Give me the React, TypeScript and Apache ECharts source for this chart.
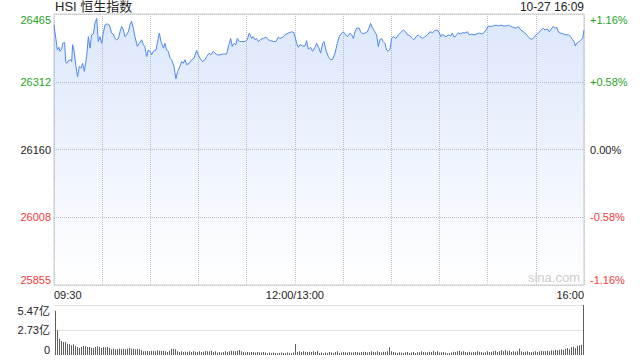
import React, { useEffect, useRef } from 'react';
import * as echarts from 'echarts';

const GREEN = '#1ea31e';
const RED = '#f23a3a';
const DARK = '#222222';
const FONT = '"Liberation Sans", Arial, "Noto Sans CJK SC", sans-serif';

const TITLE = 'HSI 恒生指数';
const STAMP = '10-27 16:09';
const WATERMARK = 'sina.com';

const Y_MIN = 25855;
const Y_MAX = 26465;
const Y_TICKS = [25855, 26007.5, 26160, 26312.5, 26465];
const Y_LABELS = ['25855', '26008', '26160', '26312', '26465'];
const PCT_LABELS = ['-1.16%', '-0.58%', '0.00%', '+0.58%', '+1.16%'];
const LABEL_COLORS = [RED, RED, DARK, GREEN, GREEN];

const X_TICKS = [0, 150, 330];
const X_LABELS = ['09:30', '12:00/13:00', '16:00'];

// minutes since 09:30 on the trading clock (lunch break removed)
const MINUTES = [
  0, 2.1, 3.1, 3.7, 4.8, 5.4, 6.6, 7.3, 7.9, 8.9, 10.4, 11, 11.6, 12.4, 13.7, 14.7, 15.8, 16.8, 17.8, 18.9,
  20.3, 21.4, 22.4, 23.4, 24.5, 25.5, 26.6, 27.6, 28.6, 29.7, 30.7, 31.7, 33.2, 34.4, 35.9, 36.9, 38, 39, 40.1, 41.1,
  42.1, 43.2, 44.2, 45.2, 46.3, 47.3, 48.3, 49.4, 50.4, 51.9, 53.1, 54.6, 55.6, 56.6, 57.7, 58.7, 59.8, 60.8, 61.8, 63.5,
  64.3, 65.6, 66.6, 68.1, 69.1, 70.1, 71.2, 72.2, 73.2, 74.7, 75.9, 77, 78, 79.5, 80.5, 81.5, 82.6, 84.2, 85.7, 87.2,
  88.8, 89.8, 91.3, 92.5, 94, 95, 96.7, 97.7, 99.2, 100.2, 101.7, 103.3, 105.4, 107.5, 108.9, 110, 111, 112.1, 113.3, 114.1,
  115.4, 116.8, 118.9, 120.3, 121.6, 123.1, 124.1, 125.1, 126.2, 127.2, 128.7, 130.3, 132, 133.4, 134.9, 136.6, 138.2, 139.7, 140.7, 142.4,
  143.8, 145.9, 148, 149.4, 151.1, 152.1, 153.2, 154.8, 156.3, 157.3, 158.3, 159.8, 161, 162.5, 163.5, 165, 166, 167.3, 168.1, 169.3,
  170.8, 172.2, 173.5, 175, 176.4, 177.6, 179.1, 180.1, 181.2, 182.6, 184.3, 185.3, 186.4, 187.4, 188.4, 190.1, 190.9, 192.2, 193.6, 195.1,
  196.1, 197.1, 198.4, 199.8, 200.9, 201.9, 203, 204, 205, 206.1, 207.1, 208.1, 209.2, 210.2, 211.3, 212.9, 214.4, 215.8, 217.5, 218.9,
  220.2, 221.6, 223.3, 224.1, 225.4, 226.8, 227.9, 229.6, 231, 232.5, 234.1, 235.8, 237.2, 238.7, 239.9, 240.8, 242, 242.8, 244.1, 245.5,
  247, 248, 249.1, 250.3, 251.8, 252.8, 254.5, 255.9, 257.4, 258.6, 260.1, 261.5, 263.2, 264.8, 266.3, 267.7, 269, 270.4, 271.9, 273.5,
  275.2, 276.7, 278.1, 279.8, 281.4, 282.9, 284.3, 286, 287.7, 289.1, 290.6, 292.2, 293.9, 295.3, 296.8, 298.4, 300.1, 301.6, 303, 304.7,
  305.7, 307.2, 308.4, 309.9, 310.9, 311.9, 313, 314, 315.5, 317.1, 318.8, 320.2, 321.7, 322.9, 323.8, 324.6, 325.4, 326.5, 327.5, 328.5,
  329.2, 330,
];

const PRICES = [
  26440, 26384, 26390, 26381, 26386, 26399, 26401, 26358, 26354, 26360, 26362, 26358, 26396, 26384, 26347, 26324, 26347, 26343, 26354, 26336,
  26369, 26414, 26388, 26418, 26420, 26444, 26455, 26403, 26414, 26399, 26422, 26440, 26443, 26440, 26422, 26420, 26410, 26407, 26410, 26425,
  26437, 26429, 26414, 26418, 26425, 26440, 26449, 26433, 26414, 26392, 26399, 26407, 26396, 26392, 26369, 26384, 26381, 26373, 26381, 26384,
  26399, 26422, 26403, 26388, 26399, 26384, 26381, 26366, 26362, 26347, 26319, 26336, 26343, 26358, 26354, 26362, 26351, 26354, 26362, 26366,
  26383, 26373, 26363, 26358, 26362, 26369, 26377, 26373, 26381, 26377, 26373, 26373, 26375, 26375, 26396, 26410, 26392, 26399, 26396, 26410,
  26403, 26403, 26403, 26407, 26422, 26410, 26414, 26407, 26410, 26403, 26408, 26410, 26413, 26407, 26405, 26403, 26403, 26413, 26410, 26413,
  26418, 26422, 26425, 26423, 26399, 26390, 26396, 26393, 26393, 26405, 26386, 26390, 26381, 26390, 26399, 26388, 26377, 26399, 26403, 26384,
  26369, 26362, 26363, 26377, 26399, 26414, 26422, 26425, 26420, 26414, 26422, 26418, 26410, 26425, 26433, 26433, 26425, 26420, 26422, 26425,
  26433, 26444, 26433, 26425, 26418, 26392, 26408, 26410, 26403, 26399, 26384, 26381, 26386, 26410, 26414, 26410, 26418, 26423, 26429, 26425,
  26418, 26416, 26410, 26407, 26414, 26418, 26414, 26410, 26414, 26418, 26425, 26423, 26428, 26429, 26423, 26414, 26420, 26416, 26414, 26418,
  26416, 26422, 26413, 26416, 26423, 26420, 26423, 26422, 26425, 26418, 26420, 26418, 26420, 26422, 26420, 26423, 26429, 26438, 26437, 26438,
  26440, 26438, 26440, 26438, 26438, 26440, 26437, 26435, 26433, 26437, 26429, 26425, 26420, 26414, 26408, 26410, 26418, 26422, 26428, 26433,
  26429, 26431, 26425, 26433, 26437, 26433, 26435, 26425, 26422, 26420, 26418, 26418, 26414, 26407, 26403, 26393, 26399, 26401, 26405, 26408,
  26410, 26429,
];

const VOL_MAX = 5.47;
const VOL_TICKS = [0, 2.735, 5.47];
const VOL_LABELS = ['0', '2.73亿', '5.47亿'];

// turnover per bar, in 亿
const VOLUME = [
  4.85, 2.70, 1.79, 1.53, 1.42, 1.42, 1.24, 1.17, 1.06, 1.17,
  0.98, 0.88, 0.77, 0.88, 0.98, 0.95, 0.88, 0.88, 0.80, 0.77,
  0.88, 0.95, 0.88, 0.77, 0.88, 0.84, 0.88, 0.77, 0.62, 0.69,
  0.62, 0.62, 0.69, 0.62, 0.69, 0.62, 0.69, 0.77, 0.69, 0.69,
  0.62, 0.69, 0.62, 0.51, 0.40, 0.40, 0.44, 0.40, 0.47, 0.44,
  0.40, 0.51, 0.47, 0.44, 0.47, 0.40, 0.33, 0.47, 0.69, 0.69,
  0.62, 0.40, 0.33, 0.40, 0.33, 0.36, 0.33, 0.40, 0.33, 0.40,
  0.36, 0.33, 0.40, 0.33, 0.36, 0.44, 0.40, 0.40, 0.47, 0.33,
  0.40, 0.26, 0.33, 0.26, 0.33, 0.40, 0.33, 0.40, 0.47, 0.44,
  0.40, 0.47, 0.55, 0.40, 0.33, 0.26, 0.33, 0.29, 0.33, 0.33,
  0.26, 0.33, 0.29, 0.26, 0.33, 0.26, 0.18, 0.26, 0.22, 0.26,
  0.22, 0.18, 0.22, 0.26, 0.22, 0.18, 0.26, 0.22, 0.18, 0.26,
  1.20, 0.33, 0.40, 0.33, 0.40, 0.36, 0.33, 0.36, 0.33, 0.40,
  0.33, 0.47,
  0.22, 0.26, 0.18, 0.26, 0.22, 0.33, 0.26, 0.22, 0.33, 0.40,
  0.22, 0.26, 0.33, 0.29, 0.26, 0.33, 0.26, 0.29, 0.33, 0.29,
  0.26, 0.33, 0.36, 0.33, 0.26, 0.33, 0.40, 0.33, 0.29, 0.40,
  0.33, 0.26, 0.36, 0.33, 0.40, 0.84, 0.40, 0.33, 0.26, 0.22,
  0.29, 0.26, 0.22, 0.29, 0.33, 0.22, 0.26, 0.33, 0.22, 0.26,
  0.29, 0.40, 0.33, 0.26, 0.29, 0.36, 0.33, 0.47, 0.33, 0.40,
  0.26, 0.29, 0.33, 0.26, 0.18, 0.22, 0.26, 0.36, 0.33, 0.40,
  0.47, 0.36, 0.40, 0.33, 0.29, 0.36, 0.26, 0.29, 0.33, 0.40,
  0.36, 0.33, 0.26, 0.29, 0.40, 0.33, 0.36, 0.40, 0.47, 0.33,
  0.40, 0.51, 0.40, 0.55, 0.40, 0.47, 0.33, 0.40, 0.36, 0.40,
  0.69, 0.40, 0.33, 0.36, 0.40, 0.33, 0.29, 0.36, 0.40, 0.33,
  0.40, 0.47, 0.40, 0.44, 0.47, 0.40, 0.51, 0.47, 0.55, 0.51,
  0.58, 0.62, 0.55, 0.69, 0.77, 0.62, 0.84, 0.91, 0.77, 0.98,
  1.06, 1.13, 5.47,
];

const tickIndex = (ticks: number[], v: number) => {
  let best = 0;
  for (let i = 1; i < ticks.length; i++) {
    if (Math.abs(ticks[i] - v) < Math.abs(ticks[best] - v)) best = i;
  }
  return Math.abs(ticks[best] - v) < 1e-3 * Math.max(1, Math.abs(v)) ? best : -1;
};

export default function App() {
  const ref = useRef<HTMLDivElement>(null);

  useEffect(() => {
    if (!ref.current) return;
    const chart = echarts.init(ref.current, undefined, { renderer: 'svg' });

    const GRID_LEFT = 54;
    const GRID_RIGHT = 56;
    const gridLine = { show: true, lineStyle: { color: '#c4c4c4', type: 'dotted', width: 1 } };

    const option: any = {
      animation: false,
      backgroundColor: '#ffffff',
      textStyle: { fontFamily: FONT },
      grid: [
        { left: GRID_LEFT, right: GRID_RIGHT, top: 14, height: 271, show: true, borderColor: '#cccccc', borderWidth: 1 },
        { left: GRID_LEFT + 0.5, right: GRID_RIGHT - 0.5, top: 305, height: 50 },
      ],
      xAxis: [
        {
          type: 'value',
          gridIndex: 0,
          min: 0,
          max: 330,
          interval: 30,
          axisLine: { show: false },
          axisTick: { show: false },
          splitLine: gridLine,
          axisLabel: {
            customValues: X_TICKS,
            formatter: (v: number) => {
              const i = tickIndex(X_TICKS, v);
              return i >= 0 ? X_LABELS[i] : '';
            },
            alignMinLabel: 'left',
            alignMaxLabel: 'right',
            color: '#222',
            fontSize: 11,
            fontFamily: FONT,
            margin: 4,
          },
        },
        {
          type: 'category',
          gridIndex: 1,
          data: VOLUME.map((_, i) => String(i)),
          boundaryGap: true,
          axisLine: { show: false },
          axisTick: { show: false },
          axisLabel: { show: false },
          splitLine: { show: false },
        },
      ],
      yAxis: [
        {
          type: 'value',
          gridIndex: 0,
          min: Y_MIN,
          max: Y_MAX,
          axisLine: { show: false },
          axisTick: { show: false, customValues: Y_TICKS },
          splitLine: gridLine,
          axisLabel: {
            customValues: Y_TICKS,
            formatter: (v: number) => {
              const i = tickIndex(Y_TICKS, v);
              return i >= 0 ? Y_LABELS[i] : '';
            },
            color: (v: number) => LABEL_COLORS[Math.max(0, tickIndex(Y_TICKS, v))],
            verticalAlignMinLabel: 'bottom',
            verticalAlignMaxLabel: 'top',
            fontSize: 11,
            fontFamily: FONT,
            margin: 3,
          },
        },
        {
          type: 'value',
          gridIndex: 0,
          position: 'right',
          min: Y_MIN,
          max: Y_MAX,
          axisLine: { show: false },
          axisTick: { show: false, customValues: Y_TICKS },
          splitLine: { show: false },
          axisLabel: {
            customValues: Y_TICKS,
            formatter: (v: number) => {
              const i = tickIndex(Y_TICKS, v);
              return i >= 0 ? PCT_LABELS[i] : '';
            },
            color: (v: number) => LABEL_COLORS[Math.max(0, tickIndex(Y_TICKS, v))],
            verticalAlignMinLabel: 'bottom',
            verticalAlignMaxLabel: 'top',
            fontSize: 11,
            fontFamily: FONT,
            margin: 6,
          },
        },
        {
          type: 'value',
          gridIndex: 1,
          min: 0,
          max: VOL_MAX,
          axisLine: { show: false },
          axisTick: { show: false, customValues: [VOL_TICKS[1], VOL_TICKS[2]] },
          splitLine: gridLine,
          axisLabel: {
            customValues: VOL_TICKS,
            formatter: (v: number) => {
              const i = tickIndex(VOL_TICKS, v);
              return i >= 0 ? VOL_LABELS[i] : '';
            },
            verticalAlignMinLabel: 'bottom',
            verticalAlignMaxLabel: 'top',
            color: '#222',
            fontSize: 11,
            fontFamily: FONT,
            margin: 4.5,
          },
        },
      ],
      series: [
        {
          type: 'line',
          xAxisIndex: 0,
          yAxisIndex: 0,
          data: MINUTES.map((m, i) => [m, PRICES[i]]),
          showSymbol: false,
          symbol: 'none',
          lineStyle: { color: '#4f88ec', width: 1 },
          areaStyle: {
            origin: 'start',
            color: new echarts.graphic.LinearGradient(0, 0, 0, 1, [
              { offset: 0, color: 'rgba(79,136,236,0.28)' },
              { offset: 1, color: 'rgba(79,136,236,0)' },
            ]),
          },
          z: 3,
        },
        {
          type: 'bar',
          xAxisIndex: 1,
          yAxisIndex: 2,
          data: VOLUME,
          barWidth: 1,
          itemStyle: { color: '#5e5e5e' },
        },
      ],
      graphic: [
        {
          type: 'text',
          left: 55,
          top: 0,
          style: { text: TITLE, font: `13px ${FONT}`, fill: '#222' },
        },
        {
          type: 'text',
          right: 56,
          top: 1,
          style: { text: STAMP, font: `12px ${FONT}`, fill: '#222' },
        },
        {
          type: 'text',
          right: 60,
          top: 271,
          style: { text: WATERMARK, font: `13px ${FONT}`, fill: '#cccccc' },
          z: 10,
        },
      ],
    };

    chart.setOption(option);
    return () => chart.dispose();
  }, []);

  return (
    <div
      ref={ref}
      style={{ position: 'absolute', left: 0, top: 0, width: 640, height: 360 }}
    />
  );
}
